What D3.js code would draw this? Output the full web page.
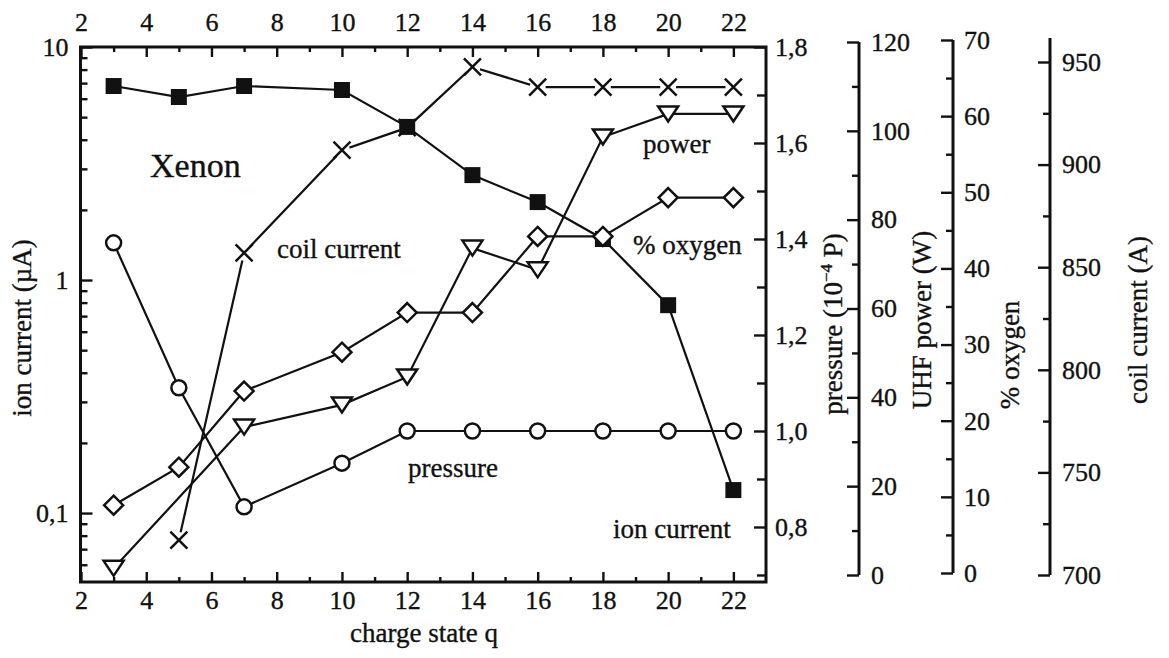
<!DOCTYPE html>
<html><head><meta charset="utf-8">
<script src="https://cdn.jsdelivr.net/npm/d3@7"></script>
<style>
body{margin:0;background:#fff}
svg{display:block}
text{font-family:"Liberation Serif","Times New Roman",serif;fill:#111;stroke:#111;stroke-width:0.35px}
</style>
</head><body>
<svg id="chart" width="1169" height="658"></svg>
<script>
// ---- data ----
const ionQ = [3,5,7,10,12,14,16,18,20,22];
const ionCurrent = [6.8,6.1,6.8,6.54,4.54,2.82,2.16,1.50,0.78,0.1255];   // µA
const pressureQ = [3,5,7,10,12,14,16,18,20,22];
const pressure = [1.392,1.09,0.842,0.933,1.0,1.0,1.0,1.0,1.0,1.0];      // 10^-4 P
const powerQ = [3,7,10,12,14,16,18,20,22];
const uhfPower = [1.5,33.3,38.3,44.6,73.6,68.7,98.6,103.8,103.8];        // W
const oxygenQ = [3,5,7,10,12,14,16,18,20,22];
const oxygen = [8.9,13.9,23.9,29.0,34.2,34.2,44.2,44.2,49.3,49.3];      // %
const coilQ = [5,7,10,12,14,16,18,20,22];
const coilCurrent = [717,857,907,918,947.6,937.8,937.8,937.8,937.8];    // A

const qMajorTicks = [2,4,6,8,10,12,14,16,18,20,22];
const qMinorTicks = [3,5,7,9,11,13,15,17,19,21];
const ionMajorTicks = [0.1,1,10];
const ionTickLabels = ["0,1","1","10"];
const pressureTicks = [0.8,1.0,1.2,1.4,1.6,1.8];
const pressureMinor = [0.7,0.9,1.1,1.3,1.5,1.7];
const powerTicks = [0,20,40,60,80,100,120];
const powerMinor = [10,30,50,70,90,110];
const oxygenTicks = [0,10,20,30,40,50,60,70];
const oxygenMinor = [5,15,25,35,45,55,65];
const coilTicks = [700,750,800,850,900,950];
const coilMinor = [725,775,825,875,925];

const svg = d3.select("#chart");
const ink = "#111";
const FS = 26;

// ---- scales ----
const L = 80.5, R = 766, T = 47, B = 582;
const x = d3.scaleLinear().domain([2,23]).range([81,R]);
const yIon = d3.scaleLog().domain([0.0506,10]).range([B,T]);
const yP = d3.scaleLinear().domain([0.6854,1.8]).range([B,T]);
const yW = d3.scaleLinear().domain([0,120]).range([575,42]);
const yO = d3.scaleLinear().domain([0,70]).range([573,40]);
const yC = d3.scaleLinear().domain([700,950]).range([575,62]);

const comma = d => d3.format(".1f")(d).replace(".", ",");

function styleAxis(g, fs){
  g.select(".domain").remove();
  g.selectAll(".tick line").attr("stroke", ink).attr("stroke-width", 2.4);
  g.selectAll(".tick text").attr("font-size", fs).attr("fill", ink);
}

// bottom axis
svg.append("g").attr("transform",`translate(0,${B})`)
  .call(d3.axisBottom(x).tickValues(qMajorTicks).tickSizeInner(-10).tickSizeOuter(0).tickPadding(9).tickFormat(d3.format("d")))
  .call(g=>styleAxis(g,FS));
svg.append("g").attr("transform",`translate(0,${B})`)
  .call(d3.axisBottom(x).tickValues(qMinorTicks).tickSizeInner(-5).tickSizeOuter(0).tickFormat(""))
  .call(g=>styleAxis(g,FS));
// top axis
svg.append("g").attr("transform",`translate(0,${T})`)
  .call(d3.axisTop(x).tickValues(qMajorTicks).tickSizeInner(-10).tickSizeOuter(0).tickPadding(16).tickFormat(d3.format("d")))
  .call(g=>styleAxis(g,FS));
svg.append("g").attr("transform",`translate(0,${T})`)
  .call(d3.axisTop(x).tickValues(qMinorTicks).tickSizeInner(-5).tickSizeOuter(0).tickFormat(""))
  .call(g=>styleAxis(g,FS));

// left log axis
const ionMinor = [];
[0.01,0.1,1].forEach(dec => { for(let k=2;k<=9;k++){ const v=+(k*dec).toPrecision(3); if(v>=0.0506 && v<10) ionMinor.push(v);} });
svg.append("g").attr("transform",`translate(${L},0)`)
  .call(d3.axisLeft(yIon).tickValues(ionMajorTicks).tickSizeInner(-12).tickSizeOuter(0).tickPadding(12)
    .tickFormat((d,i)=>ionTickLabels[i]))
  .call(g=>styleAxis(g,FS));
svg.append("g").attr("transform",`translate(${L},0)`)
  .call(d3.axisLeft(yIon).tickValues(ionMinor).tickSizeInner(-7).tickSizeOuter(0).tickFormat(""))
  .call(g=>styleAxis(g,FS));

// right pressure axis (on the frame)
svg.append("g").attr("transform",`translate(${R},0)`)
  .call(d3.axisRight(yP).tickValues(pressureTicks).tickSizeInner(-12).tickSizeOuter(0).tickPadding(9).tickFormat(comma))
  .call(g=>styleAxis(g,FS));
svg.append("g").attr("transform",`translate(${R},0)`)
  .call(d3.axisRight(yP).tickValues(pressureMinor.filter(v=>v>0.69)).tickSizeInner(-9).tickSizeOuter(0).tickFormat(""))
  .call(g=>styleAxis(g,FS));

// detached right axes
function sideAxis(xPos, scale, major, minor, top, bottom, pad){
  svg.append("line").attr("x1",xPos).attr("x2",xPos).attr("y1",top).attr("y2",bottom)
    .attr("stroke",ink).attr("stroke-width",3);
  svg.append("g").attr("transform",`translate(${xPos},0)`)
    .call(d3.axisRight(scale).tickValues(major).tickSizeInner(-12).tickSizeOuter(0).tickPadding(pad).tickFormat(d3.format("d")))
    .call(g=>styleAxis(g,FS));
  svg.append("g").attr("transform",`translate(${xPos},0)`)
    .call(d3.axisRight(scale).tickValues(minor).tickSizeInner(-7).tickSizeOuter(0).tickFormat(""))
    .call(g=>styleAxis(g,FS));
}
sideAxis(859, yW, powerTicks, powerMinor, 42, 575, 12);
sideAxis(953, yO, oxygenTicks, oxygenMinor, 40, 573, 11);
sideAxis(1050, yC, coilTicks, coilMinor, 38, 575, 12);

// frame
svg.append("rect").attr("x",L).attr("y",T).attr("width",R-L).attr("height",B-T)
  .attr("fill","none").attr("stroke",ink).attr("stroke-width",3);

// ---- series lines ----
const series = [
  {q:coilQ, v:coilCurrent, y:yC, m:"x"},
  {q:ionQ, v:ionCurrent, y:yIon, m:"square"},
  {q:pressureQ, v:pressure, y:yP, m:"circle"},
  {q:powerQ, v:uhfPower, y:yW, m:"triangle"},
  {q:oxygenQ, v:oxygen, y:yO, m:"diamond"}
];
series.forEach(s=>{
  const pts = s.q.map((q,i)=>[x(q), s.y(s.v[i])]);
  s.pts = pts;
  svg.append("path").attr("d", d3.line()(pts)).attr("fill","none")
    .attr("stroke",ink).attr("stroke-width",2.2);
});

// custom symbol types
const symTriDown = {draw(ctx, size){ const w=10, h=7.5; ctx.moveTo(-w,-h); ctx.lineTo(w,-h); ctx.lineTo(0,h); ctx.closePath(); }};
const symDiamond = {draw(ctx, size){ const r=9.5; ctx.moveTo(0,-r); ctx.lineTo(r,0); ctx.lineTo(0,r); ctx.lineTo(-r,0); ctx.closePath(); }};
const symX = {draw(ctx, size){ const r=8.5; ctx.moveTo(-r,-r); ctx.lineTo(r,r); ctx.moveTo(-r,r); ctx.lineTo(r,-r); }};

series.forEach(s=>{
  const g = svg.append("g");
  s.pts.forEach(([px,py])=>{
    const t = `translate(${px},${py})`;
    if(s.m==="x"){
      g.append("circle").attr("transform",t).attr("r",8).attr("fill","#fff");
      g.append("path").attr("transform",t).attr("d",d3.symbol().type(symX)()).attr("fill","none").attr("stroke",ink).attr("stroke-width",2.5);
    } else if(s.m==="square"){
      g.append("path").attr("transform",t).attr("d",d3.symbol().type(d3.symbolSquare).size(16*16)()).attr("fill",ink);
    } else if(s.m==="circle"){
      g.append("path").attr("transform",t).attr("d",d3.symbol().type(d3.symbolCircle).size(Math.PI*7.5*7.5)()).attr("fill","#fff").attr("stroke",ink).attr("stroke-width",2.5);
    } else if(s.m==="triangle"){
      g.append("path").attr("transform",t).attr("d",d3.symbol().type(symTriDown)()).attr("fill","#fff").attr("stroke",ink).attr("stroke-width",2.5).attr("stroke-linejoin","miter");
    } else {
      g.append("path").attr("transform",t).attr("d",d3.symbol().type(symDiamond)()).attr("fill","#fff").attr("stroke",ink).attr("stroke-width",2.5);
    }
  });
});

// ---- annotations ----
const notes = [
  {t:"Xenon", x:150, y:177, fs:34},
  {t:"coil current", x:277, y:258, fs:27},
  {t:"power", x:643, y:153, fs:27},
  {t:"% oxygen", x:633, y:254, fs:27},
  {t:"pressure", x:408, y:477, fs:27},
  {t:"ion current", x:613, y:538, fs:27}
];
svg.selectAll("text.note").data(notes).enter().append("text").attr("class","note")
  .attr("x",d=>d.x).attr("y",d=>d.y).attr("font-size",d=>d.fs).text(d=>d.t);

// axis titles
svg.append("text").attr("x",424).attr("y",642).attr("text-anchor","middle").attr("font-size",27).text("charge state q");
function vtitle(xp, yc, build){
  const t = svg.append("text").attr("transform",`translate(${xp},${yc}) rotate(-90)`).attr("text-anchor","middle").attr("font-size",27);
  build(t);
}
vtitle(31, 328, t=>t.text("ion current  (\u00b5A)"));
vtitle(842, 324, t=>{
  t.append("tspan").text("pressure (10");
  t.append("tspan").attr("font-size",17).attr("dy",-10).text("\u22124");
  t.append("tspan").attr("dy",10).text(" P)");
});
vtitle(931, 320, t=>t.text("UHF power (W)"));
vtitle(1019, 355, t=>t.text("% oxygen"));
vtitle(1147, 320, t=>t.text("coil current (A)"));
</script>
</body></html>
